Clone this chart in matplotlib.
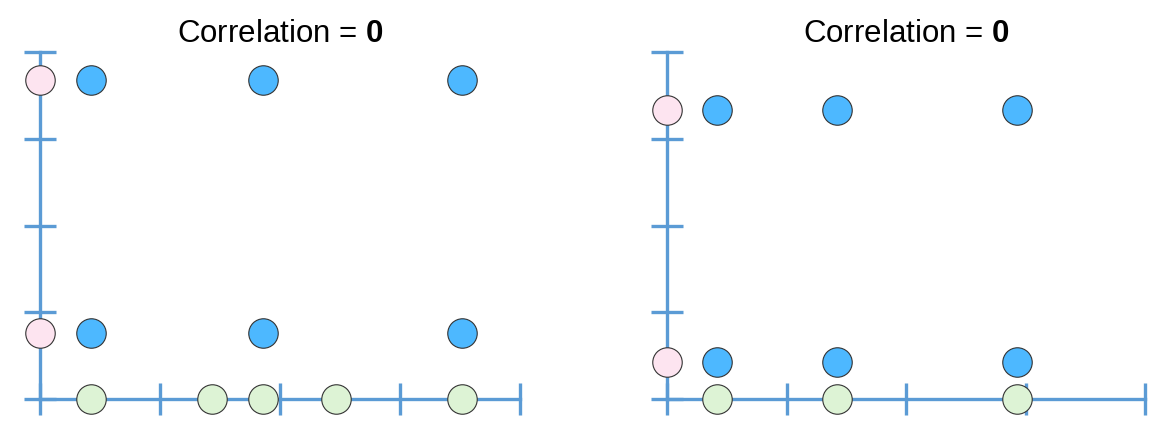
import matplotlib
matplotlib.use("Agg")
import matplotlib.pyplot as plt

plt.rcParams['font.family'] = ['Liberation Sans', 'DejaVu Sans']
plt.rcParams['mathtext.fontset'] = 'custom'
plt.rcParams['mathtext.bf'] = 'Liberation Sans:bold'
plt.rcParams['mathtext.rm'] = 'Liberation Sans'

# data for the two panels
left_x = [0.425, 1.86, 3.52]
left_y = [3.68, 0.76]
left_green = [0.425, 1.43, 1.86, 2.47, 3.52]

right_x = [0.418, 1.42, 2.925]
right_y = [3.33, 0.43]
right_green = [0.418, 1.42, 2.925]

ticks = [0, 1, 2, 3, 4]
title = r"Correlation = $\mathbf{0}$"

axis_col = '#5b9bd5'
blue = '#4db8ff'
pink = '#fde4f0'
green = '#ddf3d5'
edge = '#333333'
msize = 450

fig = plt.figure(figsize=(11.5, 4.25), dpi=100)
ax1 = fig.add_axes([40 / 1150, 26 / 425, 480 / 1150, 347 / 425])
ax2 = fig.add_axes([667 / 1150, 26 / 425, 478 / 1150, 347 / 425])


def draw_panel(ax, xs, ys, gx):
    # blue points on the grid
    px = [x for y in ys for x in xs]
    py = [y for y in ys for x in xs]
    ax.scatter(px, py, s=msize, c=blue, edgecolors=edge, linewidths=0.8,
               zorder=3, clip_on=False)
    # marginal points on the y axis
    ax.scatter([0] * len(ys), ys, s=msize, c=pink, edgecolors=edge,
               linewidths=0.8, zorder=3, clip_on=False)
    # marginal points on the x axis
    ax.scatter(gx, [0] * len(gx), s=msize, c=green, edgecolors=edge,
               linewidths=0.8, zorder=3, clip_on=False)

    ax.set_xlim(0, 4)
    ax.set_ylim(0, 4)
    ax.set_xticks(ticks)
    ax.set_yticks(ticks)
    ax.set_xticklabels([])
    ax.set_yticklabels([])
    for side in ['top', 'right']:
        ax.spines[side].set_visible(False)
    for side in ['left', 'bottom']:
        ax.spines[side].set_color(axis_col)
        ax.spines[side].set_linewidth(2.4)
    ax.tick_params(direction='inout', length=23, width=2.4, color=axis_col)
    for t in ax.xaxis.get_major_ticks() + ax.yaxis.get_major_ticks():
        t.tick1line.set_clip_on(False)
    ax.set_title(title, fontsize=22.5, pad=7)


draw_panel(ax1, left_x, left_y, left_green)
draw_panel(ax2, right_x, right_y, right_green)

fig.savefig('out.png', dpi=100)
